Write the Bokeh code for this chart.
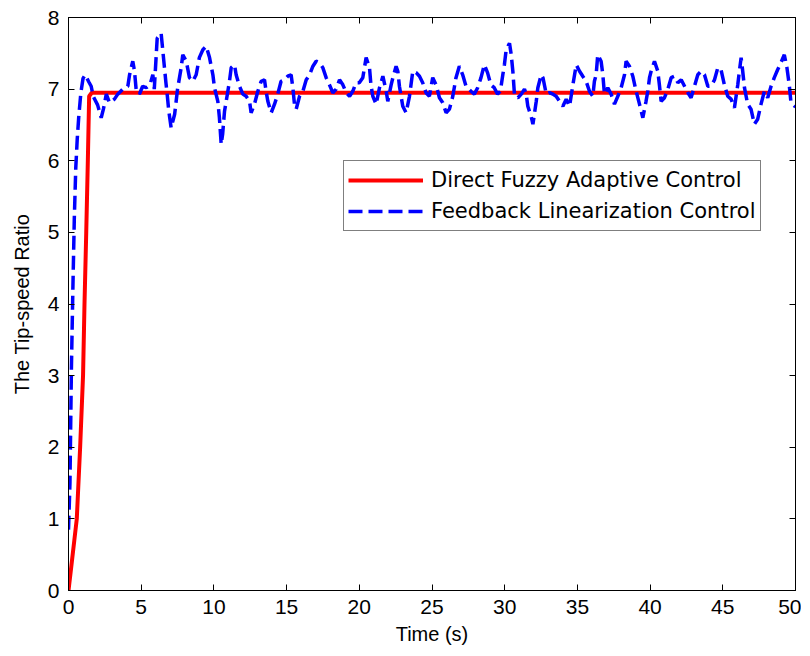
from bokeh.plotting import figure
from bokeh.models import Legend, LegendItem, LinearAxis, FixedTicker, Range1d
from bokeh.embed import file_html
from bokeh.resources import INLINE

# Direct Fuzzy Adaptive Control (red)
red_t = [0, 0.2, 0.4, 0.57, 0.8, 1.0, 1.1, 1.22, 1.33, 1.42, 1.6, 10, 20, 30, 40, 50]
red_v = [0, 0.35, 0.7, 1.0, 2.0, 3.0, 4.0, 5.0, 6.0, 6.9, 6.95, 6.95, 6.95, 6.95, 6.95, 6.95]

# Feedback Linearization Control (blue dashed)
blue_t = [0, 0.1, 0.2, 0.3, 0.4, 0.5, 0.6, 0.7, 0.85, 1.0, 1.15,
          1.4, 1.56, 1.7, 2.0, 2.25, 2.4, 2.6, 2.82, 3.16, 3.39, 3.74, 4.08, 4.2, 4.42, 4.54, 4.65, 4.88, 5.1, 5.35, 5.6, 5.8, 5.9,
          6.1, 6.37, 6.49, 6.6, 6.7, 6.8, 6.9, 7.06, 7.3, 7.5, 7.75, 7.86, 8.1, 8.32, 8.55, 8.78, 9.0, 9.24, 9.47, 9.7, 9.93,
          10.04, 10.27, 10.38, 10.5, 10.6, 10.73, 10.96, 11.07, 11.19, 11.42, 11.53, 11.76, 11.99, 12.22, 12.45, 12.56, 12.79,
          13.02, 13.25, 13.48, 13.59, 13.71, 13.94, 14.17, 14.39, 14.62, 14.85, 15.08, 15.31, 15.43, 15.54, 15.66, 15.89,
          16.12, 16.35, 16.58, 16.81, 17.03, 17.26, 17.49, 17.72, 17.95, 18.18, 18.41, 18.64, 18.87, 19.1, 19.33, 19.55, 19.78,
          20.0, 20.24, 20.47, 20.7, 20.8, 20.93, 21.16, 21.39, 21.62, 21.85, 21.96, 22.19, 22.31, 22.53, 22.65, 22.76, 22.99,
          23.22, 23.45, 23.68, 23.91, 24.14, 24.36, 24.59, 24.82, 25.05, 25.28, 25.51, 25.74, 25.97, 26.2, 26.43, 26.65, 26.88,
          27.11, 27.34, 27.68, 27.91, 28.14, 28.37, 28.6, 28.82, 29.05, 29.28, 29.51, 29.7,
          29.87, 29.98, 30.1, 30.33, 30.45, 30.56, 30.68, 30.91, 31.14, 31.36, 31.48, 31.59, 31.82, 31.94, 32.17, 32.28, 32.51,
          32.63, 32.86, 33.08, 33.31, 33.54, 33.77, 34.0, 34.23, 34.46, 34.69, 34.92, 35.15, 35.37, 35.6, 35.83, 36.06, 36.17,
          36.29, 36.4, 36.63, 36.75, 36.86, 37.09, 37.32, 37.55, 37.78, 38.01, 38.24, 38.35, 38.58, 38.81, 39.04, 39.27, 39.5, 39.72,
          39.84, 39.96, 40.07, 40.3, 40.53, 40.65, 40.76, 40.99, 41.22, 41.45, 41.68, 41.91, 42.14, 42.37, 42.6, 42.82, 43.05,
          43.28, 43.51, 43.74, 43.97, 44.2, 44.43, 44.66, 44.88, 45.11, 45.34, 45.57, 45.8, 46.03, 46.14, 46.26, 46.37, 46.49,
          46.71, 46.94, 47.17, 47.4, 47.63, 47.86, 48.09, 48.32, 48.54, 48.77, 49.0, 49.23, 49.41, 49.57, 49.68, 49.8, 50.0]
blue_v = [0.85, 1.5, 3.1, 4.2, 5.2, 5.9, 6.3, 6.6, 6.95, 7.15, 7.2,
          7.1, 7.04, 6.9, 6.78, 6.6, 6.72, 6.93, 6.81, 6.86, 6.93, 7.0, 7.04, 7.2, 7.39, 7.25, 7.0, 6.93, 7.04, 7.02, 7.06, 7.2, 7.0,
          7.71, 7.78, 7.53, 7.3, 7.09, 6.9, 6.69, 6.46, 6.65, 7.0, 7.3, 7.48, 7.39, 7.16, 7.11, 7.2, 7.44, 7.55, 7.6, 7.44, 7.2,
          7.02, 6.83, 6.6, 6.23, 6.37, 6.69, 6.97, 7.11, 7.3, 7.34, 7.2, 7.04, 6.93, 6.9, 6.83, 6.67, 6.79,
          6.97, 7.11, 7.13, 6.97, 6.83, 6.67, 6.79, 6.93, 7.11, 7.13, 7.18, 7.2, 7.02, 6.79, 6.72, 6.9,
          6.97, 7.13, 7.2, 7.32, 7.39, 7.37, 7.3, 7.16, 7.06, 6.95, 7.0, 7.13, 7.06, 6.95, 6.9, 6.97, 7.09,
          7.09, 7.16, 7.44, 7.3, 7.06, 6.9, 6.79, 7.02, 7.18, 6.97, 6.83, 7.06, 7.16, 7.32, 7.25, 7.04, 6.76,
          6.67, 6.9, 7.25, 7.23, 7.18, 7.09, 6.95, 6.9, 7.16, 7.06, 6.88, 6.81, 6.67, 6.72, 6.9, 7.16, 7.32,
          7.2, 7.04, 6.97, 6.93, 7.02, 7.16, 7.34, 7.23, 7.06, 7.02, 6.93, 6.97,
          7.2, 7.34, 7.55, 7.64, 7.48, 7.25, 6.9, 6.88, 6.93, 7.0, 6.93, 6.76, 6.62, 6.51, 6.83, 7.02, 7.2,
          7.16, 6.93, 6.95, 6.93, 6.9, 6.83, 6.76, 6.86, 6.76, 7.06, 7.34, 7.25, 7.18, 7.11, 6.97, 6.9, 7.11,
          7.2, 7.48, 7.39, 7.2, 6.93, 7.02, 6.93, 6.79, 6.9, 7.02, 7.2, 7.39, 7.32, 7.18, 6.97, 6.79, 6.6, 6.83,
          6.97, 7.16, 7.25, 7.39, 7.25, 7.04, 6.83, 6.88, 7.0, 7.16, 7.18, 7.09, 7.13, 7.04, 6.95, 6.88, 7.04,
          7.2, 7.25, 7.2, 7.04, 7.04, 7.13, 7.3, 7.27, 7.06, 6.9, 6.86, 6.74, 7.06, 7.25, 7.44, 7.25, 7.02,
          6.79, 6.72, 6.51, 6.58, 6.79, 6.97, 6.88, 7.04, 7.16, 7.27, 7.37, 7.48, 7.3, 7.06, 6.83, 6.79, 6.75]

x_ticks = [0, 5, 10, 15, 20, 25, 30, 35, 40, 45, 50]
y_ticks = [0, 1, 2, 3, 4, 5, 6, 7, 8]

FONT = "Liberation Sans"

p = figure(width=801, height=647, output_backend="svg", toolbar_location=None,
           x_range=Range1d(0, 50), y_range=Range1d(0, 8),
           min_border_left=68, min_border_right=6, min_border_top=17, min_border_bottom=55)
p.xgrid.visible = False
p.ygrid.visible = False
p.outline_line_color = "black"
p.outline_line_width = 1
p.background_fill_color = "white"
p.border_fill_color = "white"

for ax, ticks in ((p.xaxis[0], x_ticks), (p.yaxis[0], y_ticks)):
    ax.ticker = FixedTicker(ticks=ticks)
    ax.major_tick_in = 6
    ax.major_tick_out = 0
    ax.minor_tick_line_color = None
    ax.axis_line_color = "black"
    ax.major_tick_line_color = "black"
    ax.major_label_text_font = FONT
    ax.major_label_text_font_size = "21px"
    ax.major_label_text_color = "black"
    ax.major_label_standoff = 9
    ax.axis_label_text_font = FONT
    ax.axis_label_text_font_size = "20px"
    ax.axis_label_text_font_style = "normal"
    ax.axis_label_text_color = "black"

p.xaxis.axis_label = "Time (s)"
p.xaxis.axis_label_standoff = 6
p.yaxis.axis_label = "The Tip-speed Ratio"
p.yaxis.axis_label_standoff = 12

# mirrored tick marks on top and right
for loc, ticks in (("above", x_ticks), ("right", y_ticks)):
    a = LinearAxis(ticker=FixedTicker(ticks=ticks), major_tick_in=6, major_tick_out=0,
                   minor_tick_line_color=None, major_label_text_font_size="0px",
                   major_label_standoff=0, axis_line_color="black",
                   major_label_overrides={t: "" for t in ticks})
    p.add_layout(a, loc)

r1 = p.line(red_t, red_v, line_color="#ff0000", line_width=4)
r2 = p.line(blue_t, blue_v, line_color="#0000ff", line_width=3.5, line_dash="14 6")

legend = Legend(items=[LegendItem(label="Direct Fuzzy Adaptive Control", renderers=[r1]),
                       LegendItem(label="Feedback Linearization Control", renderers=[r2])],
                location=(275, 359), border_line_color="black", border_line_width=1,
                background_fill_color="white", background_fill_alpha=1,
                label_text_font="DejaVu Sans", label_text_font_size="21px", label_text_color="black",
                glyph_width=75, glyph_height=30, label_height=30, spacing=1, padding=4,
                margin=0, label_standoff=8)
p.add_layout(legend, "center")

open("out.html", "w").write(file_html(p, INLINE))
